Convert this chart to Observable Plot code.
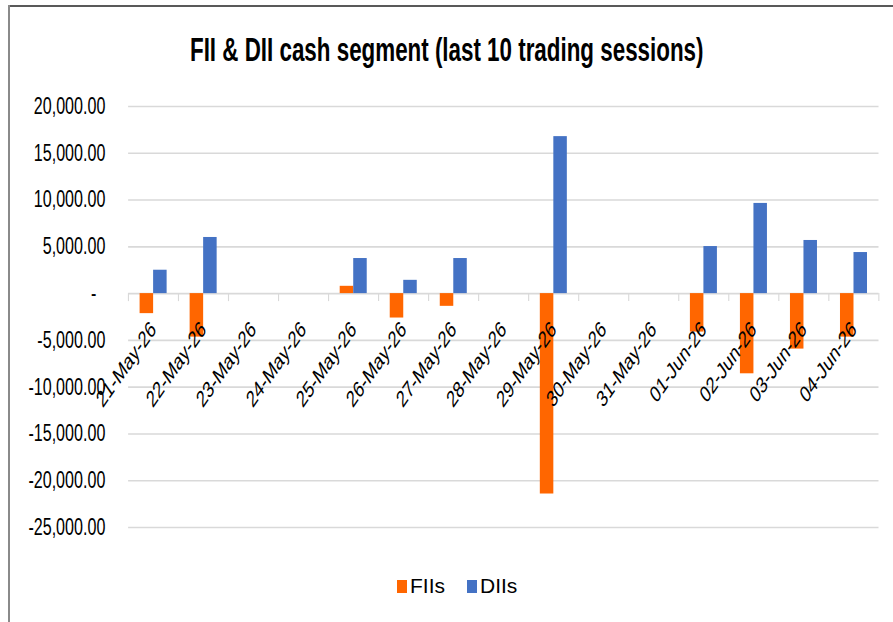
<!DOCTYPE html>
<html><head><meta charset="utf-8">
<script src="https://cdn.jsdelivr.net/npm/d3@7"></script>
<script src="https://cdn.jsdelivr.net/npm/@observablehq/plot@0.6"></script>
<style>
html,body{margin:0;padding:0;background:#fff;overflow:hidden;}
#outer{position:relative;width:893px;height:622px;overflow:hidden;font-family:"Liberation Sans",Arial,sans-serif;background:#fff;}
#frame-top{position:absolute;left:8px;top:5px;right:0;height:2px;background:#595959;}
#frame-left{position:absolute;left:8px;top:5px;bottom:0;width:2px;background:#8a8a8a;}
#squish{position:absolute;left:0;top:0;width:1276px;height:622px;transform:scaleX(0.7);transform-origin:0 0;}
#title{position:absolute;left:0;top:29px;width:1276px;text-align:center;font-weight:bold;font-size:34px;line-height:40px;color:#000;white-space:nowrap;}
#title span{display:inline-block;transform:scaleX(0.94);transform-origin:50% 50%;}
#chart{position:absolute;left:0;top:80px;}
#legend{position:absolute;left:397px;top:574px;display:flex;align-items:center;font-size:21px;line-height:24px;color:#000;white-space:nowrap;}
.sw{display:inline-block;width:10px;height:13px;margin-right:3px;}
.gap{display:inline-block;width:22px;}
</style></head>
<body>
<div id="outer">
  <div id="frame-top"></div>
  <div id="frame-left"></div>
  <div id="squish">
    <div id="title"><span>FII &amp; DII cash segment (last 10 trading sessions)</span></div>
    <div id="chart"></div>
  </div>
  <div id="legend"></div>
</div>
<script>
const dates = ["21-May-26","22-May-26","23-May-26","24-May-26","25-May-26","26-May-26","27-May-26","28-May-26","29-May-26","30-May-26","31-May-26","01-Jun-26","02-Jun-26","03-Jun-26","04-Jun-26"];
const fiis = [-2140, -4650, null, null, 780, -2610, -1360, null, -21420, null, null, -4110, -8570, -5930, -4650];
const diis = [2500, 6000, null, null, 3750, 1420, 3750, null, 16780, null, null, 5030, 9640, 5680, 4390];
const seriesNames = ["FIIs", "DIIs"];
const seriesColors = ["#FF6600", "#4472C4"];
const yTicks = [-25000, -20000, -15000, -10000, -5000, 0, 5000, 10000, 15000, 20000];

const rows = dates.flatMap((d, i) => [
  {i, date: d, series: "FIIs", value: fiis[i]},
  {i, date: d, series: "DIIs", value: diis[i]}
]).filter(r => r.value != null);

const boundaries = dates.map((d, i) => i).concat([dates.length]);
const fmt = d3.format(",.2f");
const yFormat = d => d === 0 ? "-\u2007" : fmt(d).replace("\u2212", "-");

const plot = Plot.plot({
  width: 1276,
  height: 470,
  marginLeft: 183,
  marginRight: 21,
  marginTop: 26,
  marginBottom: 23,
  style: {fontFamily: '"Liberation Sans", Arial, sans-serif', fontSize: "23px", color: "#000", background: "transparent"},
  x: {domain: [0, dates.length], axis: null},
  y: {domain: [-25000, 20000], axis: null},
  color: {domain: seriesNames, range: seriesColors},
  marks: [
    Plot.ruleY(yTicks, {stroke: "#d9d9d9", strokeWidth: 1.6}),
    Plot.ruleX(boundaries, {x: d => d, y1: () => 0, y2: () => 0, insetBottom: -8, stroke: "#d9d9d9", strokeWidth: 1.6}),
    Plot.rect(rows, {
      x1: r => r.i + (r.series === "FIIs" ? 0.23 : 0.5),
      x2: r => r.i + (r.series === "FIIs" ? 0.5 : 0.77),
      y1: () => 0,
      y2: "value",
      fill: "series"
    }),
    Plot.axisY({ticks: yTicks, label: null, tickSize: 0, tickPadding: 33, fontSize: 23, tickFormat: yFormat}),
    Plot.text(dates, {x: (d, i) => i + 0.5, y: () => 0, text: d => d, rotate: -45,
      textAnchor: "end", dy: 32, fontSize: 23, fill: "#000"})
  ]
});
document.getElementById("chart").appendChild(plot);

const legend = document.getElementById("legend");
seriesNames.forEach((name, k) => {
  if (k > 0) { const g = document.createElement("span"); g.className = "gap"; legend.appendChild(g); }
  const sw = document.createElement("span"); sw.className = "sw"; sw.style.background = seriesColors[k];
  legend.appendChild(sw);
  const t = document.createElement("span"); t.textContent = name; legend.appendChild(t);
});
</script>
</body></html>
